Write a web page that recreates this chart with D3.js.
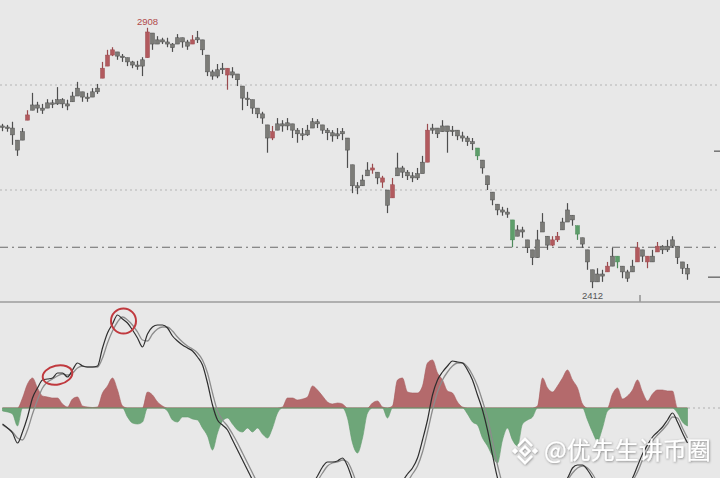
<!DOCTYPE html>
<html><head><meta charset="utf-8">
<script src="https://cdn.jsdelivr.net/npm/d3@7"></script>
<style>html,body{margin:0;padding:0;background:#e8e8e8;overflow:hidden}</style>
</head><body><svg id="c" width="720" height="478"></svg>
<script>
// ---- price candles ----
const opens = [2722,2720,2718,2695,2695,2733,2752,2762,2756,2756,
2766,2764,2772,2764,2768,2779,2787,2777,2777,2787,
2813,2836,2857,2863,2855,2852,2844,2838,2836,2852,
2899,2878,2886,2882,2878,2878,2890,2882,2878,2886,
2886,2857,2825,2817,2829,2832,2819,2821,2798,2775,
2772,2756,2745,2724,2699,2714,2726,2722,2726,2714,
2707,2705,2718,2730,2724,2714,2709,2703,2707,2699,
2648,2608,2608,2627,2638,2634,2623,2600,2585,2627,
2642,2634,2627,2623,2631,2653,2714,2718,2711,2722,
2711,2714,2703,2699,2692,2680,2657,2627,2596,2573,
2562,2558,2543,2512,2524,2505,2486,2471,2520,2512,
2495,2505,2524,2539,2552,2532,2509,2486,2448,2425,
2440,2444,2455,2474,2455,2444,2444,2463,2486,2474,
2463,2482,2493,2486,2493,2493,2463,2451];
const highs = [2726,2724,2730,2695,2718,2752,2785,2768,2764,2773,
2772,2796,2775,2772,2787,2806,2787,2785,2794,2802,
2844,2867,2872,2863,2859,2852,2846,2846,2853,2909,
2899,2893,2890,2890,2880,2897,2890,2886,2895,2903,
2886,2857,2829,2840,2842,2832,2834,2821,2798,2787,
2772,2756,2749,2724,2722,2737,2733,2737,2726,2718,
2718,2724,2737,2735,2724,2718,2714,2718,2718,2699,
2648,2615,2629,2653,2650,2634,2627,2600,2623,2671,
2646,2638,2634,2642,2665,2726,2726,2718,2733,2722,
2722,2714,2711,2703,2699,2680,2657,2627,2596,2573,
2568,2566,2543,2533,2530,2505,2486,2524,2556,2512,
2512,2520,2547,2575,2552,2532,2509,2486,2448,2451,
2448,2463,2490,2474,2455,2448,2467,2501,2486,2474,
2486,2501,2495,2505,2512,2493,2463,2459];
const lows = [2712,2711,2686,2665,2695,2733,2752,2747,2745,2756,
2756,2762,2756,2752,2768,2779,2768,2768,2777,2783,
2813,2836,2855,2848,2844,2836,2832,2829,2817,2852,
2867,2878,2878,2872,2863,2878,2871,2867,2878,2880,
2857,2817,2810,2813,2821,2791,2813,2798,2752,2760,
2745,2737,2726,2671,2695,2714,2711,2714,2699,2690,
2695,2703,2718,2718,2707,2695,2692,2697,2695,2642,
2594,2592,2608,2627,2631,2611,2604,2556,2585,2627,
2623,2619,2615,2619,2634,2653,2707,2699,2711,2671,
2703,2695,2692,2684,2676,2657,2631,2600,2571,2552,
2551,2547,2491,2512,2509,2480,2457,2471,2520,2486,
2493,2501,2524,2539,2532,2505,2490,2448,2413,2425,
2425,2444,2455,2451,2432,2425,2444,2463,2463,2451,
2463,2482,2478,2482,2490,2459,2440,2429];
const closes = [2720,2718,2705,2676,2711,2743,2762,2756,2752,2766,
2764,2772,2764,2760,2779,2794,2777,2775,2787,2794,
2832,2857,2867,2855,2852,2844,2838,2836,2848,2901,
2878,2886,2882,2878,2871,2890,2882,2874,2886,2890,
2867,2825,2817,2829,2832,2819,2825,2810,2775,2772,
2756,2745,2737,2699,2711,2726,2722,2728,2714,2707,
2705,2714,2730,2726,2714,2709,2703,2707,2711,2676,
2608,2604,2619,2638,2642,2623,2615,2571,2610,2642,
2634,2627,2623,2631,2653,2714,2718,2707,2722,2711,
2714,2703,2699,2692,2688,2665,2642,2610,2581,2562,
2558,2554,2505,2524,2520,2490,2471,2505,2539,2495,
2505,2512,2539,2562,2543,2516,2497,2463,2425,2440,
2436,2455,2474,2463,2444,2432,2455,2490,2474,2463,
2474,2493,2486,2493,2505,2471,2451,2440];
const redCandles = [5,20,21,22,29,38,45,54,74,76,78,85,110,111,121,127,129,131];
const greenCandles = [95,102,115,123];

// price reference lines
const gridPrices = [2800, 2600];
const levelPrices = [2491];
const markerPrices = [2674, 2434];
const extremeLabels = ["2908", "2412"];
const extremeIndex = [29, 118];

// ---- MACD ----
const hist = [-3,-4,-6,-18,10,24,30,20,12,11,
10,10,4,1,9,11,2,1,0.5,1,
15,22,30,18,2,-9,-15,-16,-14,16,
13,6,2,-3,-12,-14,-9,-9,-11,-12,
-20,-28,-42,-25,-13,-10,-16,-22,-24,-20,
-24,-20,-26,-30,-20,-5,1,10,10,8,
9,11,22,18,12,6,4,5,4,-10,
-35,-45,-30,-5,5,7,1,-10,2,28,
30,16,15,15,22,45,48,35,28,17,
15,6,1,-6,-14,-17,-30,-38,-48,-55,
-32,-20,-32,-38,-16,-12,-9,2,30,20,
16,22,30,38,28,20,4,-12,-24,-33,
-20,-3,14,20,9,12,18,28,16,7,
14,18,18,17,17,-5,-14,-18];
const dif = [-16,-20,-25,-35,-24,-9,10,20,28,29,
30,35,35,31,38,45,42,41,41,42,
60,75,84,93,89,85,78,70,61,74,
81,83,83,80,72,67,63,60,57,51,
43,25,3,-12,-17,-22,-32,-42,-52,-62,
-72,-82,-90,-95,-98,-98,-96,-94,-92,-90,
-88,-82,-76,-68,-59,-54,-54,-53,-50,-58,
-72,-88,-98,-100,-100,-99,-98,-100,-96,-88,
-74,-66,-60,-50,-32,-12,13,28,36,42,
47,46,45,38,28,13,-2,-22,-47,-70,
-85,-95,-105,-110,-110,-105,-100,-95,-90,-84,
-80,-78,-74,-70,-60,-57,-57,-62,-70,-80,
-88,-92,-92,-88,-82,-76,-70,-58,-46,-37,
-29,-24,-19,-12,-5,-14,-25,-35];
const dea = [-17,-20,-24,-30,-32,-22,-6,8,20,26,
29,32,34,33,35,40,42,41,41,41,
50,65,77,86,91,88,83,76,68,67,
74,79,81,81,77,71,66,62,59,55,
48,35,15,-3,-12,-18,-26,-35,-45,-55,
-65,-75,-84,-90,-95,-97,-97,-95,-93,-91,
-89,-85,-80,-73,-65,-58,-55,-54,-52,-54,
-64,-78,-90,-97,-100,-100,-99,-99,-98,-94,
-84,-74,-66,-58,-44,-24,-2,16,28,36,
42,45,45,41,33,22,7,-10,-33,-57,
-76,-89,-99,-106,-109,-108,-104,-98,-93,-87,
-82,-79,-76,-72,-65,-60,-58,-60,-66,-75,
-84,-90,-92,-90,-85,-79,-73,-64,-52,-42,
-33,-27,-22,-16,-9,-10,-20,-30];
const circledIndex = [11, 24];
const watermark = "@优先生讲币圈";

const W = 720, H = 478;
const svg = d3.select("#c");
svg.append("rect").attr("width", W).attr("height", H).attr("fill", "#e8e8e8");

const n = closes.length;
const x = d3.scaleBand().domain(d3.range(n)).range([0, 690]).padding(0);
const cx = i => x(i) + x.bandwidth() / 2;
const yP = d3.scaleLinear().domain([2412, 2908]).range([288.7, 28.3]);
const yM = d3.scaleLinear().domain([0, 60]).range([408, 348]);

// grid lines
svg.selectAll(".grid").data(gridPrices).join("line")
  .attr("x1", 0).attr("x2", W).attr("y1", d => yP(d)).attr("y2", d => yP(d))
  .attr("stroke", "#b4b4b4").attr("stroke-width", 1).attr("stroke-dasharray", "2,3");
svg.selectAll(".lvl").data(levelPrices).join("line")
  .attr("x1", 0).attr("x2", W).attr("y1", d => yP(d)).attr("y2", d => yP(d))
  .attr("stroke", "#6a6a6a").attr("stroke-width", 1.2).attr("stroke-dasharray", "8,4,2,4");
svg.selectAll(".mk").data(markerPrices).join("line")
  .attr("x1", (d, i) => i === 0 ? 714 : 708).attr("x2", W)
  .attr("y1", d => yP(d)).attr("y2", d => yP(d))
  .attr("stroke", "#555").attr("stroke-width", 1.2);

// candles
const tone = i => redCandles.includes(i) ? "r" : greenCandles.includes(i) ? "n" : "g";
const wickCol = { g: "#4e4e4e", r: "#9a4a4e", n: "#4d8a5a" };
const bodyCol = { g: "#7c7c78", r: "#b25a5e", n: "#5d9e6a" };
const cg = svg.append("g");
d3.range(n).forEach(i => {
  const t = tone(i);
  cg.append("line").attr("x1", cx(i)).attr("x2", cx(i))
    .attr("y1", yP(highs[i])).attr("y2", yP(lows[i]))
    .attr("stroke", wickCol[t]).attr("stroke-width", 1.2);
  const y0 = yP(Math.max(opens[i], closes[i])), y1 = yP(Math.min(opens[i], closes[i]));
  cg.append("rect").attr("x", cx(i) - 2).attr("width", 4)
    .attr("y", y0).attr("height", Math.max(1.5, y1 - y0))
    .attr("fill", bodyCol[t]).attr("stroke", wickCol[t]).attr("stroke-width", 0.5);
});

// extreme labels
svg.append("text").attr("x", cx(extremeIndex[0])).attr("y", yP(highs[extremeIndex[0]]) - 3)
  .attr("text-anchor", "middle").attr("font-family", "Liberation Sans, Arial, sans-serif")
  .attr("font-size", 9.5).attr("fill", "#b04a4a").text(extremeLabels[0]);
svg.append("text").attr("x", cx(extremeIndex[1])).attr("y", yP(lows[extremeIndex[1]]) + 11)
  .attr("text-anchor", "middle").attr("font-family", "Liberation Sans, Arial, sans-serif")
  .attr("font-size", 9.5).attr("fill", "#555").text(extremeLabels[1]);
svg.append("line").attr("x1", 640).attr("x2", 640).attr("y1", 295).attr("y2", 302)
  .attr("stroke", "#666").attr("stroke-width", 1);

// separator
svg.append("line").attr("x1", 0).attr("x2", W).attr("y1", 302).attr("y2", 302)
  .attr("stroke", "#9c9c9c").attr("stroke-width", 1.5);

// MACD panel
svg.append("clipPath").attr("id", "mclip").append("rect")
  .attr("x", 0).attr("y", 303).attr("width", W).attr("height", H - 303);
const mg = svg.append("g").attr("clip-path", "url(#mclip)");
const areaPos = d3.area().x((d, i) => cx(i)).y0(yM(0)).y1(d => yM(Math.max(0, d))).curve(d3.curveMonotoneX);
const areaNeg = d3.area().x((d, i) => cx(i)).y0(yM(0)).y1(d => yM(Math.min(0, d))).curve(d3.curveMonotoneX);
mg.append("path").attr("d", areaPos(hist)).attr("fill", "#b46a6c").attr("stroke", "#a65c5e").attr("stroke-width", 0.6);
mg.append("path").attr("d", areaNeg(hist)).attr("fill", "#6ea679").attr("stroke", "#5f9a6b").attr("stroke-width", 0.6);
mg.append("line").attr("x1", 688).attr("x2", W).attr("y1", yM(0)).attr("y2", yM(0))
  .attr("stroke", "#b0b0b0").attr("stroke-dasharray", "2,3");
const ln = arr => d3.line().x((d, i) => cx(i)).y(d => yM(d)).curve(d3.curveMonotoneX)(arr);
mg.append("path").attr("d", ln(dea)).attr("fill", "none").attr("stroke", "#8c8c8c").attr("stroke-width", 1.3);
mg.append("path").attr("d", ln(dif)).attr("fill", "none").attr("stroke", "#2e2e2e").attr("stroke-width", 1.2);

// red circles
svg.append("ellipse").attr("cx", cx(circledIndex[0])).attr("cy", yM(dif[circledIndex[0]]) + 2)
  .attr("rx", 15).attr("ry", 9.5)
  .attr("transform", `rotate(-12,${cx(circledIndex[0])},${yM(dif[circledIndex[0]]) + 2})`)
  .attr("fill", "none").attr("stroke", "#c0393e").attr("stroke-width", 2);
svg.append("circle").attr("cx", cx(circledIndex[1]) + 1).attr("cy", yM(dif[circledIndex[1]]) + 2)
  .attr("r", 12.5).attr("fill", "none").attr("stroke", "#c0393e").attr("stroke-width", 2);

// watermark
const defs = svg.append("defs");
const f = defs.append("filter").attr("id", "sh").attr("x", "-10%").attr("y", "-20%").attr("width", "130%").attr("height", "150%");
f.append("feDropShadow").attr("dx", 0.6).attr("dy", 0.8).attr("stdDeviation", 1).attr("flood-color", "#000").attr("flood-opacity", 0.45);
const wg = svg.append("g").attr("filter", "url(#sh)");
const lx = 525, ly = 451;
const dia = (cxx, cyy, r) => `M${cxx},${cyy - r}L${cxx + r},${cyy}L${cxx},${cyy + r}L${cxx - r},${cyy}Z`;
wg.append("path").attr("d", dia(lx, ly, 4.5)).attr("fill", "none").attr("stroke", "#fff").attr("stroke-width", 2.2);
wg.append("path").attr("d", dia(lx - 10, ly, 3)).attr("fill", "#fff");
wg.append("path").attr("d", dia(lx + 10, ly, 3)).attr("fill", "#fff");
wg.append("path").attr("d", `M${lx - 7},${ly - 5}L${lx},${ly - 12}L${lx + 7},${ly - 5}`).attr("fill", "none").attr("stroke", "#fff").attr("stroke-width", 2.4);
wg.append("path").attr("d", `M${lx - 7},${ly + 5}L${lx},${ly + 12}L${lx + 7},${ly + 5}`).attr("fill", "none").attr("stroke", "#fff").attr("stroke-width", 2.4);
wg.append("text").attr("x", 544).attr("y", 459)
  .attr("font-family", "Noto Sans CJK SC, sans-serif").attr("font-size", 24)
  .attr("fill", "#ffffff").text(watermark);
</script></body></html>
